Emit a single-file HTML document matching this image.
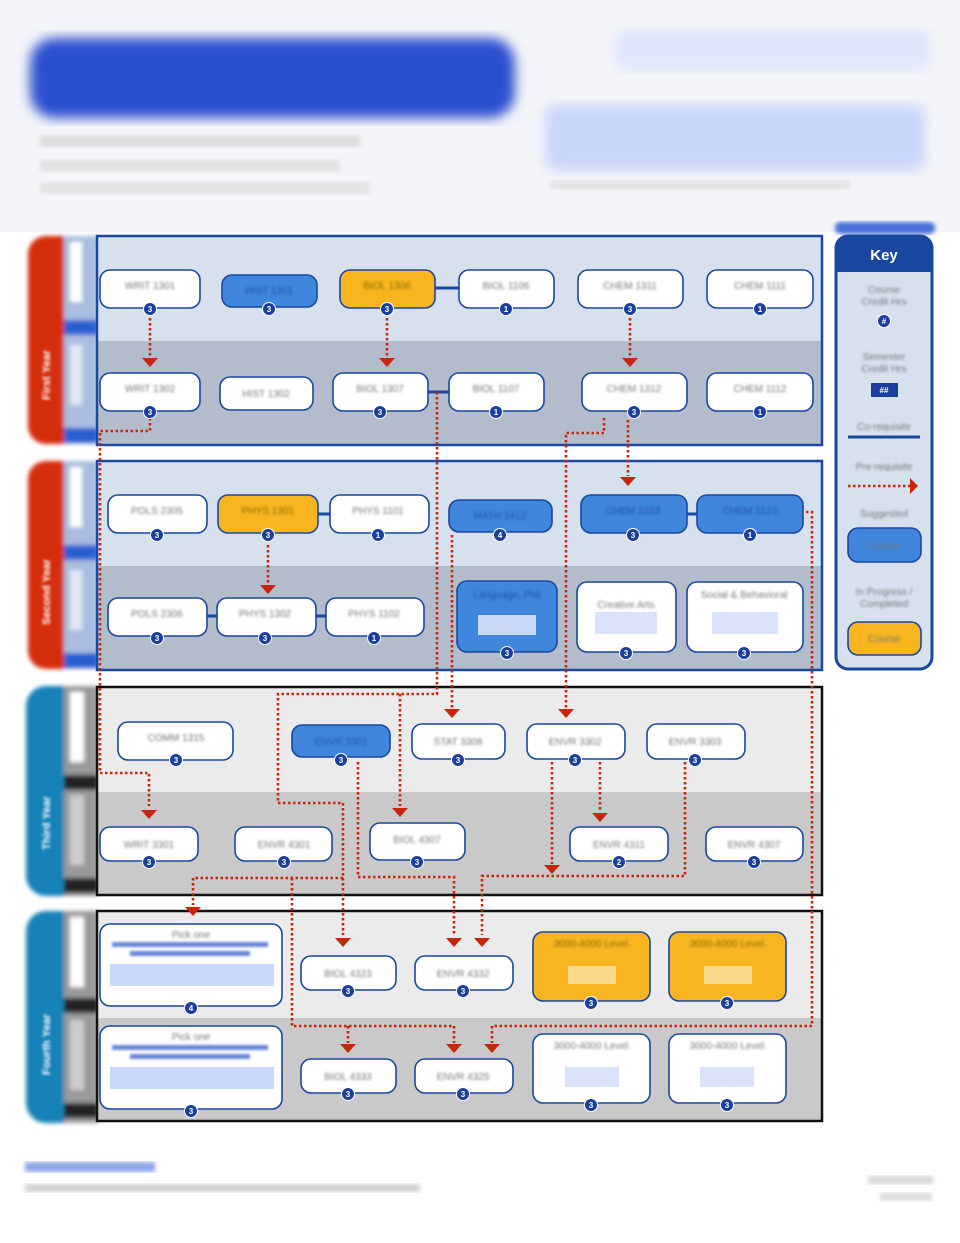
<!DOCTYPE html>
<html><head><meta charset="utf-8"><style>
html,body{margin:0;padding:0;background:#fff;}
svg{display:block;font-family:"Liberation Sans",sans-serif;}
.t{font-size:10px;fill:#777;filter:url(#b1);}
.n{fill:#fff;stroke:#1a47a0;stroke-width:1.6;}
.bl{fill:#3f86dc;stroke:#1a47a0;stroke-width:1.6;}
.or{fill:#f8b520;stroke:#1a47a0;stroke-width:1.6;}
.d{fill:none;stroke:#c8260c;stroke-width:2.6;stroke-dasharray:2.5 2.5;}
.bd{font-size:8px;font-weight:bold;fill:#fff;text-anchor:middle;}
</style></head><body>
<svg width="960" height="1243" viewBox="0 0 960 1243" xmlns="http://www.w3.org/2000/svg">
<defs>
<filter id="b6"><feGaussianBlur stdDeviation="6"/></filter>
<filter id="b2"><feGaussianBlur stdDeviation="2"/></filter>
<filter id="b1"><feGaussianBlur stdDeviation="1.2"/></filter>
<marker id="ar" viewBox="0 0 10 10" refX="5" refY="8" markerWidth="4.5" markerHeight="4.5" orient="auto-start-reverse"><path d="M0,0 L10,0 L5,10 z" fill="#c8260c" transform="rotate(-90 5 5)"/></marker>
<g id="tri"><path d="M-8,0 L8,0 L0,9 z" fill="#c8260c"/></g>
</defs>
<!-- header -->
<rect x="0" y="0" width="960" height="232" fill="#f4f5f8"/>
<rect x="30" y="38" width="485" height="80" rx="25" fill="#2a4fcf" filter="url(#b6)"/>
<rect x="615" y="30" width="315" height="40" rx="10" fill="#dfe6fb" filter="url(#b6)"/>
<rect x="545" y="105" width="380" height="65" rx="10" fill="#c9d6fb" filter="url(#b6)"/>
<rect x="40" y="135" width="320" height="12" fill="#ddd" filter="url(#b2)"/>
<rect x="40" y="160" width="300" height="12" fill="#e2e2e2" filter="url(#b2)"/>
<rect x="40" y="182" width="330" height="12" fill="#e4e4e4" filter="url(#b2)"/>
<rect x="550" y="180" width="300" height="10" fill="#e4e4e4" filter="url(#b2)"/>
<rect x="835" y="222" width="100" height="12" rx="5" fill="#4a6fd8" filter="url(#b2)"/>

<!-- tabs -->
<g filter="url(#b2)">
<rect x="28" y="236" width="70" height="208" rx="18" fill="#d52d10"/>
<rect x="64" y="236" width="34" height="208" fill="#a9bde0"/>
<rect x="70" y="242" width="12" height="60" fill="#fff"/><rect x="70" y="345" width="12" height="60" fill="#e2e8f4"/>
<rect x="64" y="320" width="34" height="15" fill="#2c5ed0"/><rect x="64" y="428" width="34" height="15" fill="#2c5ed0"/>
<rect x="28" y="461" width="70" height="208" rx="18" fill="#d52d10"/>
<rect x="64" y="461" width="34" height="208" fill="#a9bde0"/>
<rect x="70" y="467" width="12" height="60" fill="#fff"/><rect x="70" y="570" width="12" height="60" fill="#e2e8f4"/>
<rect x="64" y="545" width="34" height="15" fill="#2c5ed0"/><rect x="64" y="653" width="34" height="15" fill="#2c5ed0"/>
<rect x="26" y="686" width="72" height="210" rx="20" fill="#1382b8"/>
<rect x="64" y="686" width="34" height="210" fill="#9a9a9a"/>
<rect x="70" y="692" width="14" height="70" fill="#fff"/><rect x="70" y="795" width="14" height="70" fill="#ccc"/>
<rect x="64" y="775" width="34" height="15" fill="#222"/><rect x="64" y="878" width="34" height="15" fill="#222"/>
<rect x="26" y="911" width="72" height="212" rx="20" fill="#1382b8"/>
<rect x="64" y="911" width="34" height="212" fill="#9a9a9a"/>
<rect x="70" y="917" width="14" height="70" fill="#fff"/><rect x="70" y="1020" width="14" height="70" fill="#ccc"/>
<rect x="64" y="998" width="34" height="15" fill="#222"/><rect x="64" y="1103" width="34" height="15" fill="#222"/>
</g>
<g font-size="11" font-weight="bold" fill="#fff" filter="url(#b1)">
<text transform="translate(50 400) rotate(-90)">First Year</text>
<text transform="translate(50 625) rotate(-90)">Second Year</text>
<text transform="translate(50 850) rotate(-90)">Third Year</text>
<text transform="translate(50 1075) rotate(-90)">Fourth Year</text>
</g>

<!-- section backgrounds -->
<rect x="98" y="237" width="723" height="104" fill="#d7e1ed"/>
<rect x="98" y="341" width="723" height="103" fill="#b3bccb"/>
<rect x="97" y="236" width="725" height="209" fill="none" stroke="#1a47a0" stroke-width="2.5"/>
<rect x="98" y="462" width="723" height="104" fill="#d7e1ed"/>
<rect x="98" y="566" width="723" height="103" fill="#b3bccb"/>
<rect x="97" y="461" width="725" height="209" fill="none" stroke="#1a47a0" stroke-width="2.5"/>
<rect x="98" y="688" width="723" height="104" fill="#ebebeb"/>
<rect x="98" y="792" width="723" height="102" fill="#c9c9c9"/>
<rect x="97" y="687" width="725" height="208" fill="none" stroke="#111" stroke-width="2.5"/>
<rect x="98" y="912" width="723" height="106" fill="#ebebeb"/>
<rect x="98" y="1018" width="723" height="102" fill="#c9c9c9"/>
<rect x="97" y="911" width="725" height="210" fill="none" stroke="#111" stroke-width="2.5"/>

<!-- coreq lines -->
<g stroke="#1a47a0" stroke-width="3">
<line x1="435" y1="288" x2="459" y2="288"/><line x1="428" y1="392" x2="449" y2="392"/>
<line x1="687" y1="514" x2="697" y2="514"/><line x1="318" y1="514" x2="330" y2="514"/>
<line x1="207" y1="616" x2="217" y2="616"/><line x1="316" y1="616" x2="326" y2="616"/>
</g>

<!-- dotted connectors -->
<g class="d">
<polyline points="150,318 150,356"/>
<polyline points="387,318 387,356"/>
<polyline points="630,318 630,356"/>
<polyline points="150,418 150,431 100,431 100,773 149,773 149,806"/>
<polyline points="437,392 437,694 278,694 278,803 343,803 343,935"/>
<polyline points="400,694 400,806"/>
<polyline points="604,418 604,433 566,433 566,708"/>
<polyline points="628,420 628,476"/>
<polyline points="268,545 268,584"/>
<polyline points="452,535 452,708"/>
<polyline points="358,762 358,877 454,877 454,935"/>
<polyline points="343,878 193,878 193,905"/>
<polyline points="292,878 292,1026 454,1026 454,1043"/>
<polyline points="348,1026 348,1043"/>
<polyline points="806,512 812,512 812,1026 492,1026 492,1043"/>
<polyline points="552,762 552,864"/>
<polyline points="600,762 600,812"/>
<polyline points="685,762 685,876 482,876 482,935"/>
</g>
<g>
<use href="#tri" x="150" y="358"/><use href="#tri" x="387" y="358"/><use href="#tri" x="630" y="358"/>
<use href="#tri" x="628" y="477"/><use href="#tri" x="268" y="585"/>
<use href="#tri" x="452" y="709"/><use href="#tri" x="566" y="709"/>
<use href="#tri" x="149" y="810"/><use href="#tri" x="400" y="808"/><use href="#tri" x="600" y="813"/>
<use href="#tri" x="552" y="865"/><use href="#tri" x="193" y="907"/>
<use href="#tri" x="343" y="938"/><use href="#tri" x="454" y="938"/><use href="#tri" x="482" y="938"/>
<use href="#tri" x="348" y="1044"/><use href="#tri" x="454" y="1044"/><use href="#tri" x="492" y="1044"/>
</g>

<!-- nodes -->
<g>
<rect class="n" x="100" y="270" width="100" height="38" rx="10"/>
<rect class="bl" x="222" y="275" width="95" height="32" rx="10"/>
<rect class="or" x="340" y="270" width="95" height="38" rx="10"/>
<rect class="n" x="459" y="270" width="95" height="38" rx="10"/>
<rect class="n" x="578" y="270" width="105" height="38" rx="10"/>
<rect class="n" x="707" y="270" width="106" height="38" rx="10"/>
<rect class="n" x="100" y="373" width="100" height="38" rx="10"/>
<rect class="n" x="220" y="377" width="93" height="33" rx="10"/>
<rect class="n" x="333" y="373" width="95" height="38" rx="10"/>
<rect class="n" x="449" y="373" width="95" height="38" rx="10"/>
<rect class="n" x="582" y="373" width="105" height="38" rx="10"/>
<rect class="n" x="707" y="373" width="106" height="38" rx="10"/>

<rect class="n" x="108" y="495" width="99" height="38" rx="10"/>
<rect class="or" x="218" y="495" width="100" height="38" rx="10"/>
<rect class="n" x="330" y="495" width="99" height="38" rx="10"/>
<rect class="bl" x="449" y="500" width="103" height="32" rx="10"/>
<rect class="bl" x="581" y="495" width="106" height="38" rx="10"/>
<rect class="bl" x="697" y="495" width="106" height="38" rx="10"/>
<rect class="n" x="108" y="598" width="99" height="38" rx="10"/>
<rect class="n" x="217" y="598" width="99" height="38" rx="10"/>
<rect class="n" x="326" y="598" width="98" height="38" rx="10"/>
<rect class="bl" x="457" y="581" width="100" height="71" rx="10"/>
<rect x="478" y="615" width="58" height="20" fill="#c9d9f8"/>
<rect class="n" x="577" y="582" width="99" height="70" rx="10"/>
<rect x="595" y="612" width="62" height="22" fill="#dbe3fb"/>
<rect class="n" x="687" y="582" width="116" height="70" rx="10"/>
<rect x="712" y="612" width="66" height="22" fill="#dbe3fb"/>

<rect class="n" x="118" y="722" width="115" height="38" rx="10"/>
<rect class="bl" x="292" y="725" width="98" height="32" rx="10"/>
<rect class="n" x="412" y="724" width="93" height="35" rx="10"/>
<rect class="n" x="527" y="724" width="98" height="35" rx="10"/>
<rect class="n" x="647" y="724" width="98" height="35" rx="10"/>
<rect class="n" x="100" y="827" width="98" height="34" rx="10"/>
<rect class="n" x="235" y="827" width="97" height="34" rx="10"/>
<rect class="n" x="370" y="823" width="95" height="37" rx="10"/>
<rect class="n" x="570" y="827" width="98" height="34" rx="10"/>
<rect class="n" x="706" y="827" width="97" height="34" rx="10"/>

<rect class="n" x="100" y="924" width="182" height="82" rx="10"/>
<rect x="110" y="964" width="164" height="22" fill="#c9d8fb"/>
<rect class="n" x="301" y="956" width="95" height="34" rx="10"/>
<rect class="n" x="415" y="956" width="98" height="34" rx="10"/>
<rect class="or" x="533" y="932" width="117" height="69" rx="10"/>
<rect x="568" y="966" width="48" height="18" fill="#f8d98a"/>
<rect class="or" x="669" y="932" width="117" height="69" rx="10"/>
<rect x="704" y="966" width="48" height="18" fill="#f8d98a"/>
<rect class="n" x="100" y="1026" width="182" height="83" rx="10"/>
<rect x="110" y="1067" width="164" height="22" fill="#c9d8fb"/>
<rect class="n" x="301" y="1059" width="95" height="34" rx="10"/>
<rect class="n" x="415" y="1059" width="98" height="34" rx="10"/>
<rect class="n" x="533" y="1034" width="117" height="69" rx="10"/>
<rect x="565" y="1067" width="54" height="20" fill="#dbe3fb"/>
<rect class="n" x="669" y="1034" width="117" height="69" rx="10"/>
<rect x="700" y="1067" width="54" height="20" fill="#dbe3fb"/>
</g>

<!-- labels -->
<g class="t" text-anchor="middle">
<text x="150" y="289">WRIT 1301</text><text x="269" y="294" fill="#1e4ea8">HIST 1301</text>
<text x="387" y="289" fill="#8a6a10">BIOL 1306</text><text x="506" y="289">BIOL 1106</text>
<text x="630" y="289">CHEM 1311</text><text x="760" y="289">CHEM 1111</text>
<text x="150" y="392">WRIT 1302</text><text x="266" y="397">HIST 1302</text>
<text x="380" y="392">BIOL 1307</text><text x="496" y="392">BIOL 1107</text>
<text x="634" y="392">CHEM 1312</text><text x="760" y="392">CHEM 1112</text>
<text x="157" y="514">POLS 2305</text><text x="268" y="514" fill="#8a6a10">PHYS 1301</text>
<text x="378" y="514">PHYS 1101</text><text x="500" y="519" fill="#1e4ea8">MATH 2412</text>
<text x="633" y="514" fill="#1e4ea8">CHEM 2323</text><text x="750" y="514" fill="#1e4ea8">CHEM 2123</text>
<text x="157" y="617">POLS 2306</text><text x="265" y="617">PHYS 1302</text><text x="374" y="617">PHYS 1102</text>
<text x="507" y="598" fill="#1e4ea8">Language, Phil</text><text x="626" y="608">Creative Arts</text>
<text x="744" y="598">Social &amp; Behavioral</text>
<text x="176" y="741">COMM 1315</text><text x="341" y="745" fill="#1e4ea8">ENVR 3301</text>
<text x="458" y="745">STAT 3308</text><text x="575" y="745">ENVR 3302</text><text x="695" y="745">ENVR 3303</text>
<text x="149" y="848">WRIT 3301</text><text x="284" y="848">ENVR 4301</text><text x="417" y="843">BIOL 4307</text>
<text x="619" y="848">ENVR 4311</text><text x="754" y="848">ENVR 4307</text>
<text x="191" y="938">Pick one</text><text x="348" y="977">BIOL 4323</text><text x="463" y="977">ENVR 4332</text>
<text x="591" y="947" fill="#8a6a10">3000-4000 Level</text><text x="727" y="947" fill="#8a6a10">3000-4000 Level</text>
<text x="191" y="1040">Pick one</text><text x="348" y="1080">BIOL 4333</text><text x="463" y="1080">ENVR 4325</text>
<text x="591" y="1049">3000-4000 Level</text><text x="727" y="1049">3000-4000 Level</text>
</g>
<g fill="#6b86d8" filter="url(#b1)">
<rect x="112" y="942" width="156" height="5"/><rect x="130" y="951" width="120" height="5"/>
<rect x="112" y="1045" width="156" height="5"/><rect x="130" y="1054" width="120" height="5"/>
</g>

<!-- badges -->
<g fill="#1a3f9e" stroke="#fff" stroke-width="1">
<circle cx="150" cy="309" r="6.5"/><circle cx="269" cy="309" r="6.5"/><circle cx="387" cy="309" r="6.5"/><circle cx="506" cy="309" r="6.5"/><circle cx="630" cy="309" r="6.5"/><circle cx="760" cy="309" r="6.5"/>
<circle cx="150" cy="412" r="6.5"/><circle cx="380" cy="412" r="6.5"/><circle cx="496" cy="412" r="6.5"/><circle cx="634" cy="412" r="6.5"/><circle cx="760" cy="412" r="6.5"/>
<circle cx="157" cy="535" r="6.5"/><circle cx="268" cy="535" r="6.5"/><circle cx="378" cy="535" r="6.5"/><circle cx="500" cy="535" r="6.5"/><circle cx="633" cy="535" r="6.5"/><circle cx="750" cy="535" r="6.5"/>
<circle cx="157" cy="638" r="6.5"/><circle cx="265" cy="638" r="6.5"/><circle cx="374" cy="638" r="6.5"/><circle cx="507" cy="653" r="6.5"/><circle cx="626" cy="653" r="6.5"/><circle cx="744" cy="653" r="6.5"/>
<circle cx="176" cy="760" r="6.5"/><circle cx="341" cy="760" r="6.5"/><circle cx="458" cy="760" r="6.5"/><circle cx="575" cy="760" r="6.5"/><circle cx="695" cy="760" r="6.5"/>
<circle cx="149" cy="862" r="6.5"/><circle cx="284" cy="862" r="6.5"/><circle cx="417" cy="862" r="6.5"/><circle cx="619" cy="862" r="6.5"/><circle cx="754" cy="862" r="6.5"/>
<circle cx="191" cy="1008" r="6.5"/><circle cx="348" cy="991" r="6.5"/><circle cx="463" cy="991" r="6.5"/><circle cx="591" cy="1003" r="6.5"/><circle cx="727" cy="1003" r="6.5"/>
<circle cx="191" cy="1111" r="6.5"/><circle cx="348" cy="1094" r="6.5"/><circle cx="463" cy="1094" r="6.5"/><circle cx="591" cy="1105" r="6.5"/><circle cx="727" cy="1105" r="6.5"/>
</g>
<g class="bd">
<text x="150" y="312">3</text><text x="269" y="312">3</text><text x="387" y="312">3</text><text x="506" y="312">1</text><text x="630" y="312">3</text><text x="760" y="312">1</text>
<text x="150" y="415">3</text><text x="380" y="415">3</text><text x="496" y="415">1</text><text x="634" y="415">3</text><text x="760" y="415">1</text>
<text x="157" y="538">3</text><text x="268" y="538">3</text><text x="378" y="538">1</text><text x="500" y="538">4</text><text x="633" y="538">3</text><text x="750" y="538">1</text>
<text x="157" y="641">3</text><text x="265" y="641">3</text><text x="374" y="641">1</text><text x="507" y="656">3</text><text x="626" y="656">3</text><text x="744" y="656">3</text>
<text x="176" y="763">3</text><text x="341" y="763">3</text><text x="458" y="763">3</text><text x="575" y="763">3</text><text x="695" y="763">3</text>
<text x="149" y="865">3</text><text x="284" y="865">3</text><text x="417" y="865">3</text><text x="619" y="865">2</text><text x="754" y="865">3</text>
<text x="191" y="1011">4</text><text x="348" y="994">3</text><text x="463" y="994">3</text><text x="591" y="1006">3</text><text x="727" y="1006">3</text>
<text x="191" y="1114">3</text><text x="348" y="1097">3</text><text x="463" y="1097">3</text><text x="591" y="1108">3</text><text x="727" y="1108">3</text>
</g>

<!-- key -->
<rect x="836" y="236" width="96" height="433" rx="12" fill="#d7e1ed" stroke="#1a47a0" stroke-width="3"/>
<path d="M836,272 L836,248 Q836,236 848,236 L920,236 Q932,236 932,248 L932,272 Z" fill="#1a47a0"/>
<text x="884" y="260" font-size="15" font-weight="bold" fill="#fff" text-anchor="middle">Key</text>
<g class="t" text-anchor="middle" font-size="9">
<text x="884" y="293">Course</text><text x="884" y="305">Credit Hrs</text>
<text x="884" y="360">Semester</text><text x="884" y="372">Credit Hrs</text>
<text x="884" y="430">Co-requisite</text>
<text x="884" y="470">Pre-requisite</text>
<text x="884" y="517">Suggested</text>
<text x="884" y="595">In Progress /</text><text x="884" y="607">Completed</text>
</g>
<circle cx="884" cy="321" r="6.5" fill="#1a3f9e" stroke="#fff"/><text class="bd" x="884" y="324">#</text>
<rect x="871" y="383" width="27" height="14" fill="#1a3f9e"/><text class="bd" x="884" y="393">##</text>
<line x1="848" y1="437" x2="920" y2="437" stroke="#1a47a0" stroke-width="3"/>
<line x1="848" y1="486" x2="910" y2="486" class="d"/>
<path d="M910,478 L918,486 L910,494 Z" fill="#c8260c"/>
<rect class="bl" x="848" y="528" width="73" height="34" rx="10"/>
<text class="t" x="884" y="549" text-anchor="middle" fill="#1e4ea8">Course</text>
<rect class="or" x="848" y="622" width="73" height="33" rx="10"/>
<text class="t" x="884" y="642" text-anchor="middle" fill="#8a6a10">Course</text>

<!-- footer -->
<rect x="25" y="1162" width="130" height="10" fill="#8ea6ea" filter="url(#b2)"/>
<rect x="25" y="1184" width="395" height="8" fill="#d0d0d0" filter="url(#b2)"/>
<rect x="868" y="1176" width="65" height="8" fill="#d6d6d6" filter="url(#b2)"/>
<rect x="880" y="1193" width="52" height="8" fill="#dcdcdc" filter="url(#b2)"/>
</svg>
</body></html>
